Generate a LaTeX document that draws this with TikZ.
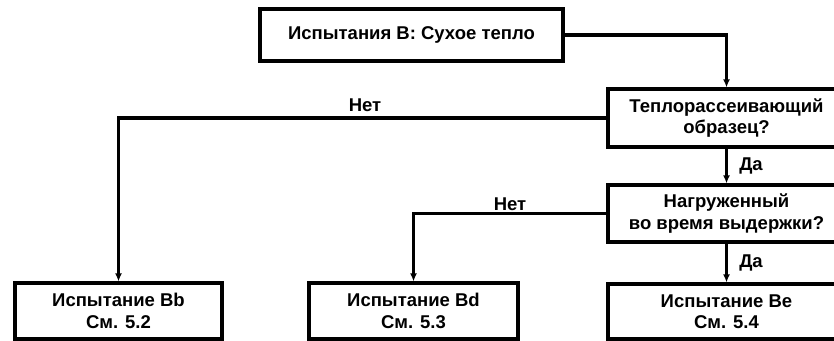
\documentclass[tikz,border=0pt]{standalone}
\usepackage{fontspec}
\setmainfont{Liberation Sans}
\usetikzlibrary{arrows.meta}
\begin{document}
\begin{tikzpicture}[x=1pt,y=-1pt,
  txt/.style={font=\bfseries\fontsize{18.5}{21.5}\selectfont},
  box/.style={draw, line width=3.2pt, inner sep=0pt, align=center, txt},
  conn/.style={line width=3.2pt, -{Latex[length=8pt,width=7pt]}},
  lbl/.style={txt, inner sep=0pt}]
\useasboundingbox (0,0) rectangle (834,340);
\clip (0,0) rectangle (834,340);
\node[box, minimum width=303pt, minimum height=52pt] (top) at (411.5,35) {Испытания B: Сухое тепло};
\node[box, minimum width=237pt, minimum height=58pt] (q1) at (726.5,118) {Теплорассеивающий\\образец?};
\node[box, minimum width=237pt, minimum height=57pt] (q2) at (726.5,213.5) {Нагруженный\\во время выдержки?};
\node[box, minimum width=207pt, minimum height=56pt] (bb) at (118.5,311) {Испытание Bb\\См. 5.2};
\node[box, minimum width=209pt, minimum height=56pt] (bd) at (413.5,311) {Испытание Bd\\См. 5.3};
\node[box, minimum width=237pt, minimum height=55pt] (be) at (726.5,311.5) {Испытание Be\\См. 5.4};
\draw[conn] (top.east) -| (q1.north);
\draw[conn] (q1.south) -- (q2.north);
\draw[conn] (q2.south) -- (be.north);
\draw[conn] (q1.west) -| (bb.north);
\draw[conn] (q2.west) -| (bd.north);
\node[lbl] (no1) at (365,105) {Нет};
\node[lbl] (no2) at (510,204) {Нет};
\node[lbl] (yes1) at (751,166) {Да};
\node[lbl] (yes2) at (751,263) {Да};
\end{tikzpicture}
\end{document}
